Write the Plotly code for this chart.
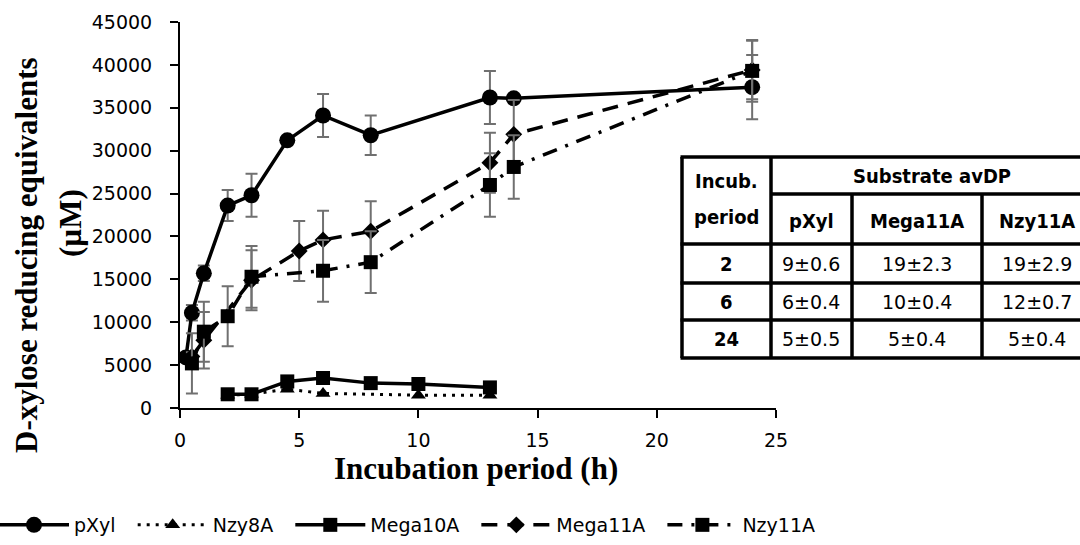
import plotly.graph_objects as go

# ---------------- data ----------------
pxyl_x = [0.25, 0.5, 1, 2, 3, 4.5, 6, 8, 13, 14, 24]
pxyl_y = [5900, 11100, 15700, 23600, 24800, 31200, 34100, 31800, 36200, 36100, 37400]
pxyl_err = [400, 900, 900, 1800, 2500, 400, 2500, 2300, 3100, 300, 3750]

nzy8a_x = [2, 3, 4.5, 6, 10, 13]
nzy8a_y = [1500, 1600, 2200, 1700, 1500, 1500]

mega10a_x = [2, 3, 4.5, 6, 8, 10, 13]
mega10a_y = [1600, 1600, 3100, 3500, 2900, 2800, 2400]

mega11a_x = [0.5, 1, 3, 5, 6, 8, 13, 14, 24]
mega11a_y = [6000, 7900, 14900, 18300, 19600, 20600, 28600, 31900, 39400]
mega11a_err = [500, 3300, 3500, 3500, 3400, 3500, 3500, 4000, 3400]

nzy11a_x = [0.5, 1, 2, 3, 6, 8, 13, 14, 24]
nzy11a_y = [5200, 8900, 10700, 15300, 16000, 17000, 26000, 28100, 39300]
nzy11a_err = [3500, 3500, 3500, 3600, 3600, 3600, 3700, 3700, 3600]

x_ticks = [0, 5, 10, 15, 20, 25]
y_ticks = [0, 5000, 10000, 15000, 20000, 25000, 30000, 35000, 40000, 45000]

table_periods = ["2", "6", "24"]
table_substrates = ["pXyl", "Mega11A", "Nzy11A"]
dp_pxyl = ["9±0.6", "6±0.4", "5±0.5"]
dp_mega11a = ["19±2.3", "10±0.4", "5±0.4"]
dp_nzy11a = ["19±2.9", "12±0.7", "5±0.4"]

# ---------------- layout geometry ----------------
W, H = 1080, 545
L, R, T, B = 180, 776, 22, 408   # plot area in pixels


def px(xp):
    return (xp - L) / (R - L)


def py(yp):
    return (B - yp) / (B - T)


ERR_COLOR = "#707070"
PAD = "\u00a0\u00a0"   # spacing after each legend label


def err(vals):
    return dict(type="data", array=vals, visible=True, color=ERR_COLOR,
                thickness=2, width=6)


fig = go.Figure()

fig.add_trace(go.Scatter(
    x=pxyl_x, y=pxyl_y, name="pXyl" + PAD, mode="lines+markers",
    line=dict(color="black", width=3.5),
    marker=dict(symbol="circle", size=16, color="black"),
    error_y=err(pxyl_err)))

fig.add_trace(go.Scatter(
    x=nzy8a_x, y=nzy8a_y, name="Nzy8A" + PAD, mode="lines+markers",
    line=dict(color="black", width=3, dash="3px,6px"),
    marker=dict(symbol="triangle-up", size=13, color="black")))

fig.add_trace(go.Scatter(
    x=mega10a_x, y=mega10a_y, name="Mega10A" + PAD, mode="lines+markers",
    line=dict(color="black", width=3.5),
    marker=dict(symbol="square", size=14, color="black")))

fig.add_trace(go.Scatter(
    x=mega11a_x, y=mega11a_y, name="Mega11A" + PAD, mode="lines+markers",
    line=dict(color="black", width=3.5, dash="16px,10px"),
    marker=dict(symbol="diamond", size=13, color="black"),
    error_y=err(mega11a_err)))

fig.add_trace(go.Scatter(
    x=nzy11a_x, y=nzy11a_y, name="Nzy11A", mode="lines+markers",
    line=dict(color="black", width=3.5, dash="15px,9px,3px,9px"),
    marker=dict(symbol="square", size=14, color="black"),
    error_y=err(nzy11a_err)))

TICK_FONT = dict(family="DejaVu Sans", size=19, color="black")

fig.update_layout(
    width=W, height=H,
    margin=dict(l=L, r=W - R, t=T, b=H - B, pad=0, autoexpand=False),
    paper_bgcolor="white", plot_bgcolor="white",
    showlegend=True,
    legend=dict(orientation="h", x=px(820), xanchor="right",
                y=py(525), yanchor="middle", itemwidth=70,
                font=dict(family="DejaVu Sans", size=19, color="black"),
                bgcolor="rgba(0,0,0,0)"),
    xaxis=dict(range=[0, 25], tickvals=x_ticks, ticktext=[str(v) for v in x_ticks],
               showgrid=False, zeroline=False, showline=True, linecolor="black",
               linewidth=2, ticks="outside", ticklen=8, tickwidth=2, tickcolor="black",
               tickfont=TICK_FONT, ticklabelstandoff=6),
    yaxis=dict(range=[0, 45000], tickvals=y_ticks, ticktext=[str(v) for v in y_ticks],
               showgrid=False, zeroline=False, showline=True, linecolor="black",
               linewidth=2, ticks="outside", ticklen=8, tickwidth=2, tickcolor="black",
               tickfont=TICK_FONT, ticklabelstandoff=14),
)

TITLE_FONT = dict(family="Liberation Serif, Times New Roman, serif", size=31, color="black")
annotations = [
    dict(text="<b>Incubation period (h)</b>", x=px(476), y=py(468), xref="paper", yref="paper",
         xanchor="center", yanchor="middle", showarrow=False, font=TITLE_FONT),
    dict(text="<b>D-xylose reducing equivalents</b>", x=px(27), y=py(255), xref="paper",
         yref="paper", xanchor="center", yanchor="middle", showarrow=False,
         textangle=-90, font=TITLE_FONT),
    dict(text="<b>(µM)</b>", x=px(70), y=py(223), xref="paper", yref="paper",
         xanchor="center", yanchor="middle", showarrow=False, textangle=-90, font=TITLE_FONT),
]

# ---------------- inset table ----------------
tx = [682, 771, 852, 982, 1092]          # column borders (px)
ty = [157, 194, 244, 283, 320, 358]      # row borders (px)
LW = 3.5
shapes = [dict(type="rect", xref="paper", yref="paper", x0=px(tx[0]), x1=px(tx[4]),
               y0=py(ty[0]), y1=py(ty[5]), fillcolor="white", line=dict(width=0), layer="above")]


def hline(x0, x1, y):
    shapes.append(dict(type="line", xref="paper", yref="paper", x0=px(x0), x1=px(x1),
                       y0=py(y), y1=py(y), line=dict(color="black", width=LW), layer="above"))


def vline(x, y0, y1):
    shapes.append(dict(type="line", xref="paper", yref="paper", x0=px(x), x1=px(x),
                       y0=py(y0), y1=py(y1), line=dict(color="black", width=LW), layer="above"))


hline(tx[0] - 1.5, tx[4], ty[0])
hline(tx[1], tx[4], ty[1])
for yy in ty[2:]:
    hline(tx[0] - 1.5, tx[4], yy)
vline(tx[0], ty[0], ty[5])
vline(tx[1], ty[0], ty[5])
vline(tx[2], ty[1], ty[5])
vline(tx[3], ty[1], ty[5])

BOLD = dict(family="DejaVu Sans Condensed, DejaVu Sans", size=20, color="black")
REG = dict(family="DejaVu Sans", size=19, color="black")


def cell(text, xc, yc, font):
    annotations.append(dict(text=text, x=px(xc), y=py(yc), xref="paper", yref="paper",
                            xanchor="center", yanchor="middle", showarrow=False, font=font))


cell("<b>Incub.</b>", (tx[0] + tx[1]) / 2, 181, BOLD)
cell("<b>period</b>", (tx[0] + tx[1]) / 2, 217, BOLD)
cell("<b>Substrate avDP</b>", (tx[1] + tx[4]) / 2, 176, BOLD)
for j, name in enumerate(table_substrates):
    cell("<b>" + name + "</b>", (tx[j + 1] + tx[j + 2]) / 2, 221, BOLD)
cols = [dp_pxyl, dp_mega11a, dp_nzy11a]
for i, per in enumerate(table_periods):
    yc = (ty[i + 2] + ty[i + 3]) / 2
    cell("<b>" + per + "</b>", (tx[0] + tx[1]) / 2, yc, BOLD)
    for j, col in enumerate(cols):
        cell(col[i], (tx[j + 1] + tx[j + 2]) / 2, yc, REG)

fig.update_layout(shapes=shapes, annotations=annotations)

fig.write_html("out.html")
